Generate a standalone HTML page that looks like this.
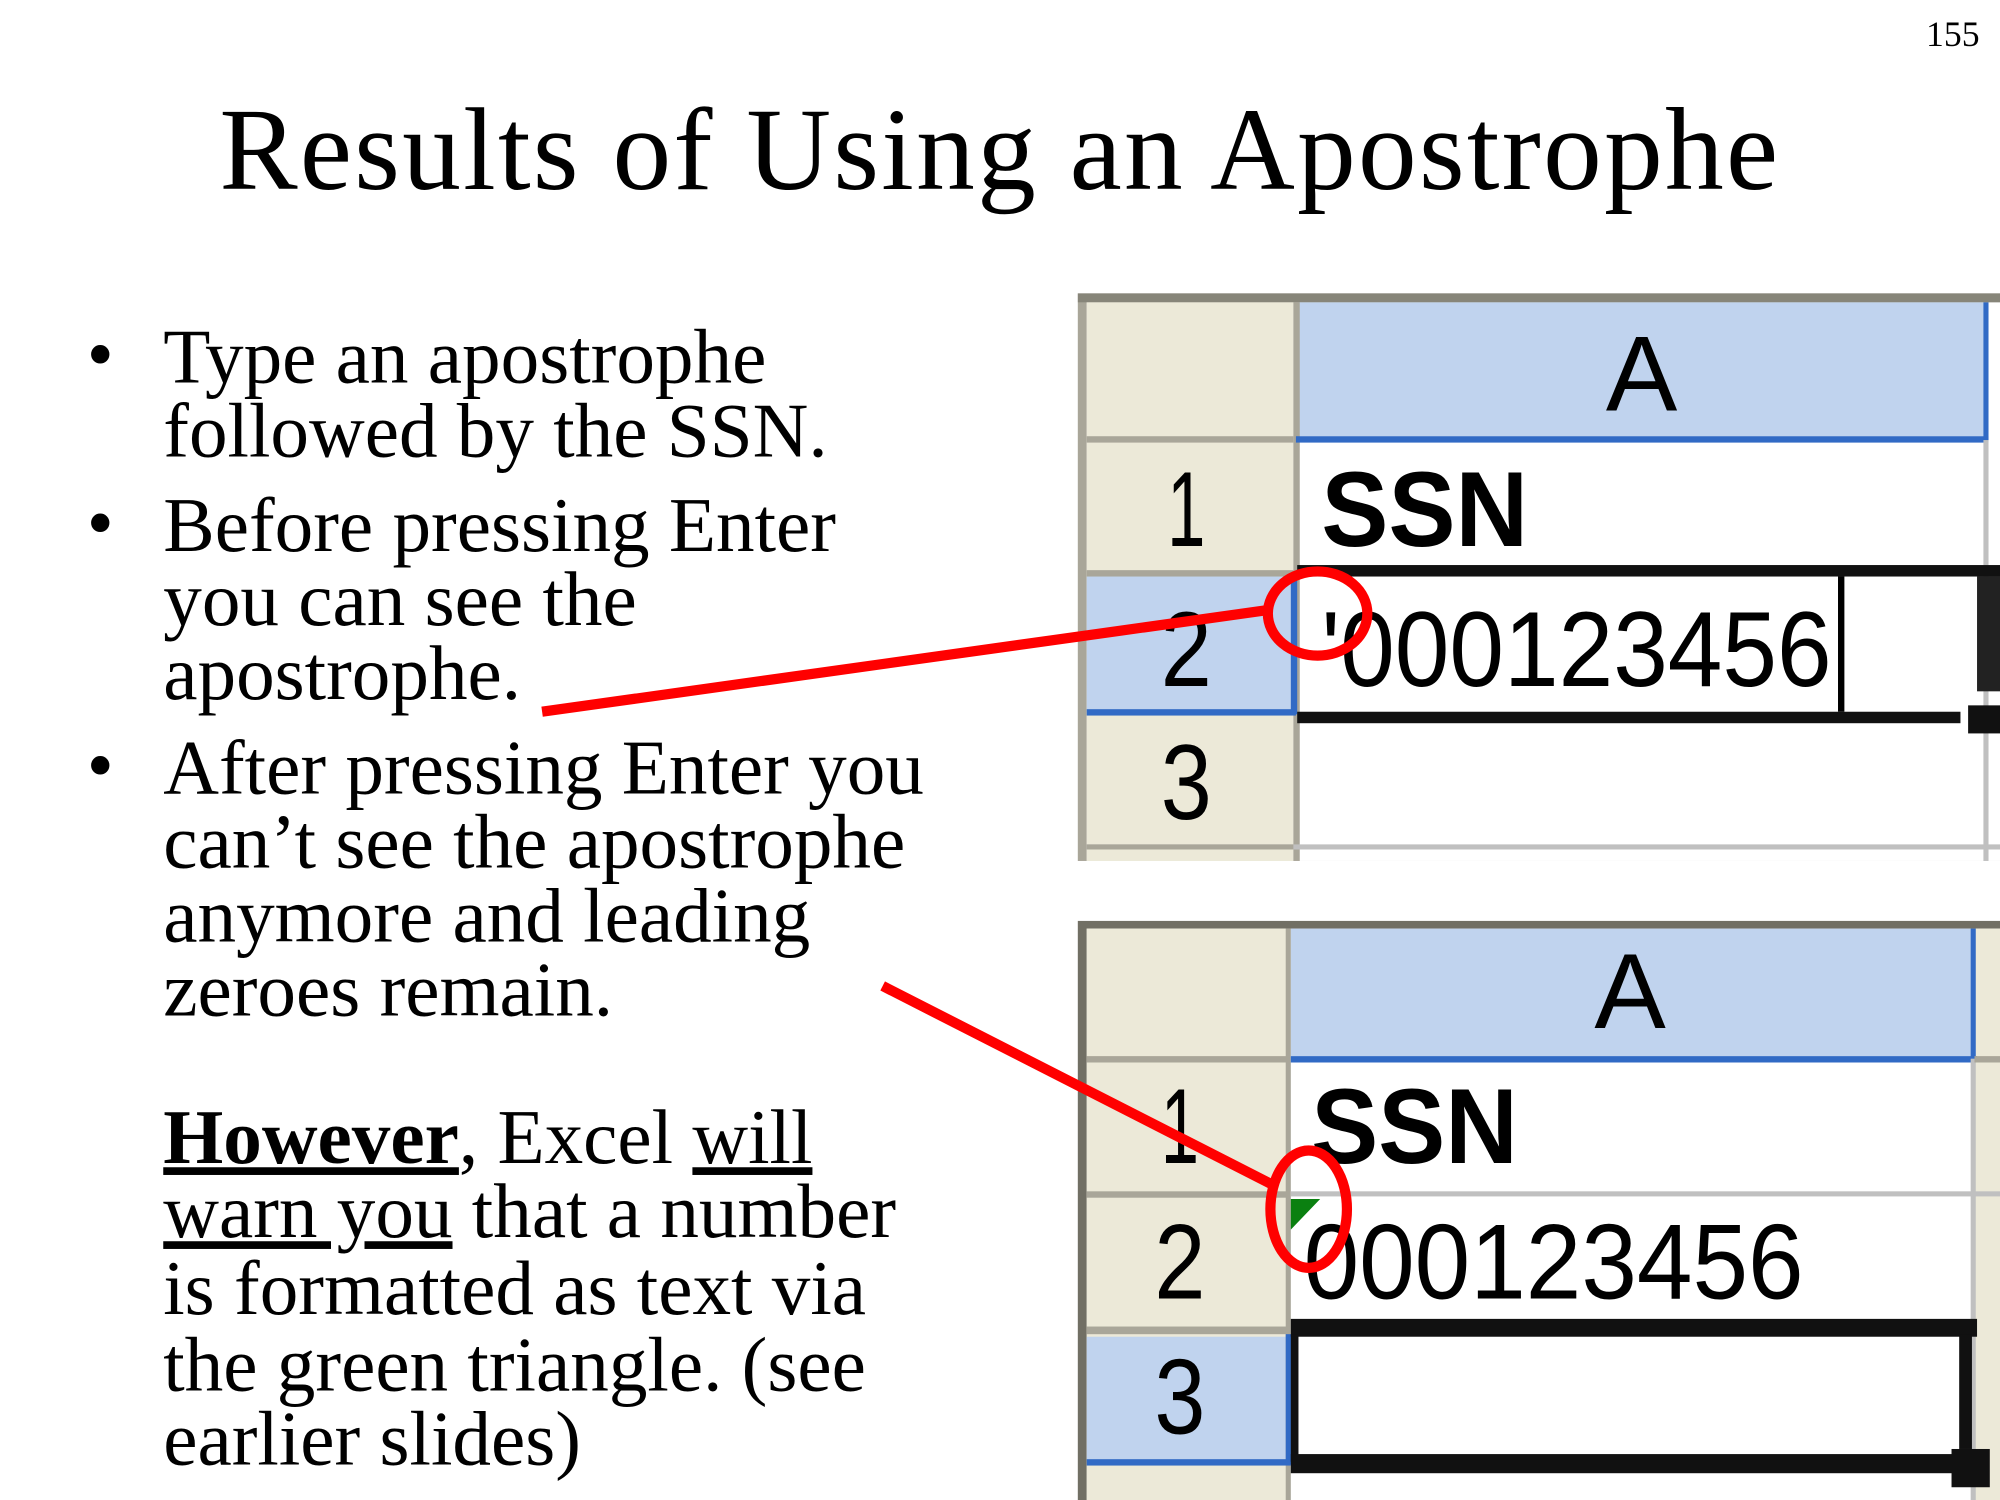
<!DOCTYPE html>
<html><head><meta charset="utf-8"><style>
html,body{margin:0;padding:0;background:#fff;width:2000px;height:1500px;overflow:hidden}
svg{display:block}
text{font-family:"Liberation Serif",serif}
.s{font-family:"Liberation Sans",sans-serif}
</style></head><body>
<svg width="2000" height="1500" viewBox="0 0 1568 1176" xmlns="http://www.w3.org/2000/svg">
<rect width="1568" height="1176" fill="#fff"/>
<text x="1552" y="36" font-size="28" text-anchor="end">155</text>
<text x="783" y="148" font-size="92" text-anchor="middle" textLength="1222">Results of Using an Apostrophe</text>
<g font-size="60.5">
<text x="68" y="298">•</text><text x="68" y="430">•</text><text x="68" y="620">•</text>
<text x="128" y="300">Type an apostrophe</text>
<text x="128" y="358">followed by the SSN.</text>
<text x="128" y="432">Before pressing Enter</text>
<text x="128" y="490">you can see the</text>
<text x="128" y="548">apostrophe.</text>
<text x="128" y="622">After pressing Enter you</text>
<text x="128" y="680">can’t see the apostrophe</text>
<text x="128" y="738">anymore and leading</text>
<text x="128" y="796">zeroes remain.</text>
<text x="128" y="912"><tspan font-weight="bold" text-decoration="underline">However</tspan>, Excel <tspan text-decoration="underline">will</tspan></text>
<text x="128" y="970"><tspan text-decoration="underline">warn you</tspan> that a number</text>
<text x="128" y="1030">is formatted as text via</text>
<text x="128" y="1090">the green triangle. (see</text>
<text x="128" y="1148">earlier slides)</text>
</g>

<!-- top sheet -->
<g>
<rect x="845" y="230" width="723" height="445" fill="#A9A699"/>
<rect x="852" y="237" width="716" height="438" fill="#fff"/>
<rect x="852" y="237" width="162" height="438" fill="#ECE9D8"/>
<rect x="852" y="452" width="162" height="106" fill="#C0D3EE"/>
<rect x="1018" y="237" width="538" height="105" fill="#C0D3EE"/>
<rect x="1014" y="237" width="5" height="438" fill="#A9A699"/>
<rect x="852" y="342" width="162" height="5" fill="#A9A699"/>
<rect x="852" y="447" width="162" height="5" fill="#A9A699"/>
<rect x="852" y="662" width="716" height="4" fill="#C0C0C0"/>
<rect x="852" y="662" width="162" height="4" fill="#A9A699"/>
<rect x="1016" y="342" width="543" height="5" fill="#316AC5"/>
<rect x="1555" y="237" width="4" height="108" fill="#316AC5"/>
<rect x="1555" y="345" width="4" height="330" fill="#C0C0C0"/>
<rect x="1012" y="452" width="5" height="108" fill="#316AC5"/>
<rect x="852" y="556" width="164" height="5" fill="#316AC5"/>
<rect x="845" y="230" width="723" height="7" fill="#716F64" opacity=".6"/>
<rect x="1017" y="443" width="551" height="9" fill="#111"/>
<rect x="1017" y="558" width="520" height="9" fill="#111"/>
<rect x="1441" y="452" width="5" height="106" fill="#000"/>
<rect x="1550" y="452" width="18" height="90" fill="#222"/>
<rect x="1543" y="553" width="25" height="22" fill="#111"/>
<text class="s" x="1287" y="322" font-size="84" text-anchor="middle" textLength="56" lengthAdjust="spacingAndGlyphs">A</text>
<text class="s" x="1036" y="428" font-size="84" font-weight="bold" textLength="162" lengthAdjust="spacingAndGlyphs">SSN</text>
<text class="s" x="1036" y="538" font-size="84" textLength="400" lengthAdjust="spacingAndGlyphs">'000123456</text>
<text class="s" x="930" y="428" font-size="84" text-anchor="middle" textLength="30" lengthAdjust="spacingAndGlyphs">1</text>
<text class="s" x="930" y="538" font-size="84" text-anchor="middle" textLength="40" lengthAdjust="spacingAndGlyphs">2</text>
<text class="s" x="930" y="642" font-size="84" text-anchor="middle" textLength="40" lengthAdjust="spacingAndGlyphs">3</text>
</g>

<!-- bottom sheet -->
<g>
<rect x="845" y="722" width="723" height="454" fill="#716F64"/>
<rect x="852" y="728" width="716" height="448" fill="#fff"/>
<rect x="852" y="728" width="157" height="448" fill="#ECE9D8"/>
<rect x="852" y="1048" width="157" height="98" fill="#C0D3EE"/>
<rect x="1012" y="728" width="535" height="100" fill="#C0D3EE"/>
<rect x="1548" y="728" width="20" height="448" fill="#ECE9D8"/>
<rect x="1008" y="728" width="4" height="448" fill="#A9A699"/>
<rect x="852" y="828" width="157" height="5" fill="#A9A699"/>
<rect x="852" y="934" width="157" height="5" fill="#A9A699"/>
<rect x="852" y="1040" width="157" height="6" fill="#A9A699"/>
<rect x="1012" y="934" width="556" height="4" fill="#C0C0C0"/>
<rect x="1012" y="828" width="538" height="5" fill="#316AC5"/>
<rect x="1545" y="728" width="4" height="102" fill="#316AC5"/>
<rect x="1545" y="830" width="4" height="346" fill="#C0C0C0"/>
<rect x="1548" y="828" width="20" height="5" fill="#A9A699"/>
<rect x="1008" y="1046" width="5" height="102" fill="#316AC5"/>
<rect x="852" y="1144" width="160" height="5" fill="#316AC5"/>
<rect x="1012" y="1034" width="538" height="14" fill="#111"/>
<rect x="1012" y="1140" width="520" height="15" fill="#111"/>
<rect x="1012" y="1046" width="6" height="100" fill="#111"/>
<rect x="1536" y="1046" width="10" height="90" fill="#111"/>
<rect x="1530" y="1136" width="30" height="30" fill="#111"/>
<polygon points="1012,940 1035,940 1012,964" fill="#0A8010"/>
<text class="s" x="1278" y="806" font-size="84" text-anchor="middle" textLength="56" lengthAdjust="spacingAndGlyphs">A</text>
<text class="s" x="1028" y="912" font-size="84" font-weight="bold" textLength="162" lengthAdjust="spacingAndGlyphs">SSN</text>
<text class="s" x="1022" y="1018" font-size="84" textLength="392" lengthAdjust="spacingAndGlyphs">000123456</text>
<text class="s" x="925" y="912" font-size="84" text-anchor="middle" textLength="30" lengthAdjust="spacingAndGlyphs">1</text>
<text class="s" x="925" y="1018" font-size="84" text-anchor="middle" textLength="40" lengthAdjust="spacingAndGlyphs">2</text>
<text class="s" x="925" y="1124" font-size="84" text-anchor="middle" textLength="40" lengthAdjust="spacingAndGlyphs">3</text>
</g>

<!-- red callouts -->
<g stroke="#F00" stroke-width="8" fill="none">
<line x1="425" y1="558" x2="996" y2="478"/>
<ellipse cx="1033" cy="481" rx="39" ry="33"/>
<line x1="692" y1="773" x2="1000" y2="930"/>
<ellipse cx="1026" cy="948" rx="30" ry="46"/>
</g>
</svg>
</body></html>
